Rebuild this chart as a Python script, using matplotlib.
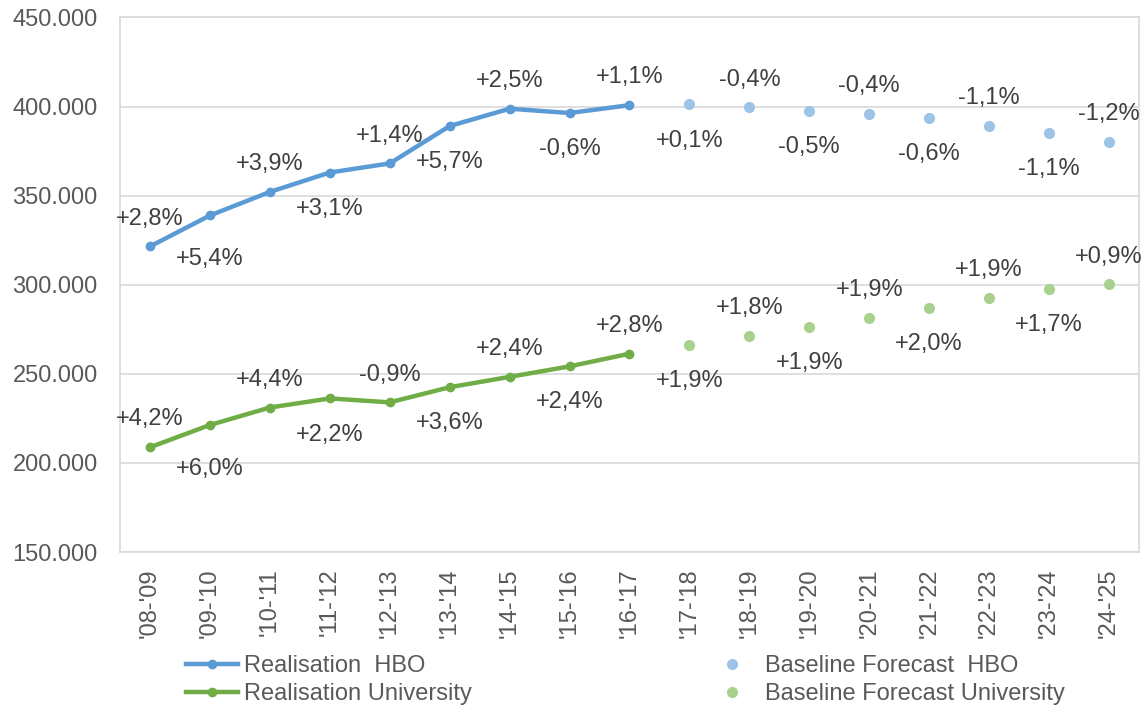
import matplotlib
matplotlib.use("Agg")
import matplotlib.pyplot as plt
from matplotlib.ticker import FuncFormatter
from matplotlib.lines import Line2D

plt.rcParams['font.family'] = ['Liberation Sans', 'DejaVu Sans']

years = ["'08-'09", "'09-'10", "'10-'11", "'11-'12", "'12-'13", "'13-'14", "'14-'15", "'15-'16",
         "'16-'17", "'17-'18", "'18-'19", "'19-'20", "'20-'21", "'21-'22", "'22-'23", "'23-'24", "'24-'25"]

# realisation up to '16-'17, forecast from '17-'18
hbo_real = [321.5, 338.9, 352.1, 363.0, 368.1, 389.1, 398.8, 396.4, 400.8]
hbo_fc = [401.2, 399.6, 397.6, 396.0, 393.6, 389.3, 385.0, 380.4]
uni_real = [208.8, 221.3, 231.1, 236.2, 234.0, 242.5, 248.3, 254.2, 261.3]
uni_fc = [266.3, 271.1, 276.2, 281.5, 287.1, 292.6, 297.6, 300.2]

hbo_pct = ["+2,8%", "+5,4%", "+3,9%", "+3,1%", "+1,4%", "+5,7%", "+2,5%", "-0,6%", "+1,1%",
           "+0,1%", "-0,4%", "-0,5%", "-0,4%", "-0,6%", "-1,1%", "-1,1%", "-1,2%"]
uni_pct = ["+4,2%", "+6,0%", "+4,4%", "+2,2%", "-0,9%", "+3,6%", "+2,4%", "+2,4%", "+2,8%",
           "+1,9%", "+1,8%", "+1,9%", "+1,9%", "+2,0%", "+1,9%", "+1,7%", "+0,9%"]

c_hbo = '#5B9BD5'
c_hbo_fc = '#9DC3E6'
c_uni = '#70AD47'
c_uni_fc = '#A9D18E'
txt = '#404040'
tick_c = '#595959'
grid_c = '#D9D9D9'
fs = 17

fig = plt.figure(figsize=(11.41, 7.11), dpi=100)
ax = fig.add_axes([0.1052, 0.2236, 0.8930, 0.7518])

n_real = len(hbo_real)
x_real = list(range(n_real))
x_fc = list(range(n_real, len(years)))

ax.plot(x_real, [v * 1000 for v in hbo_real], color=c_hbo, lw=3.2, marker='o', ms=6, zorder=3)
ax.plot(x_fc, [v * 1000 for v in hbo_fc], color=c_hbo_fc, lw=0, marker='o', ms=7, zorder=3)
ax.plot(x_real, [v * 1000 for v in uni_real], color=c_uni, lw=3.2, marker='o', ms=6, zorder=3)
ax.plot(x_fc, [v * 1000 for v in uni_fc], color=c_uni_fc, lw=0, marker='o', ms=7, zorder=3)

# data labels, alternating above / below
for series, pcts in [(hbo_real + hbo_fc, hbo_pct), (uni_real + uni_fc, uni_pct)]:
    for i, (v, p) in enumerate(zip(series, pcts)):
        if i % 2 == 0:
            off = 20
        else:
            off = -31.5 if i == 1 else -26
        ax.annotate(p, (i, v * 1000), xytext=(0, off), textcoords='offset points',
                    ha='center', va='center', fontsize=fs, color=txt)

ax.set_xlim(-0.5, len(years) - 0.5)
ax.set_ylim(150000, 450000)
ax.set_yticks(range(150000, 450001, 50000))
ax.yaxis.set_major_formatter(FuncFormatter(lambda v, p: f"{int(v):,}".replace(',', '.')))
ax.set_xticks(range(len(years)))
ax.set_xticklabels(years, rotation=90)
ax.tick_params(axis='both', length=0, labelsize=fs, labelcolor=tick_c)
ax.tick_params(axis='x', pad=12)
ax.tick_params(axis='y', pad=16)
ax.grid(axis='y', color=grid_c, lw=1.2)
ax.set_axisbelow(True)
for s in ax.spines.values():
    s.set_color(grid_c)
    s.set_linewidth(1.2)

h1 = [Line2D([], [], color=c_hbo, lw=3.2, marker='o', ms=6),
      Line2D([], [], color=c_uni, lw=3.2, marker='o', ms=6)]
h2 = [Line2D([], [], color=c_hbo_fc, lw=0, marker='o', ms=7),
      Line2D([], [], color=c_uni_fc, lw=0, marker='o', ms=7)]

leg1 = fig.legend(h1, ['Realisation  HBO', 'Realisation University'], loc='upper left',
                  bbox_to_anchor=(186 / 1141, 1 - 655 / 711), frameon=False, fontsize=fs,
                  handlelength=2.2, handletextpad=0.25, labelspacing=0.27, borderpad=0,
                  borderaxespad=0, labelcolor=tick_c)
leg2 = fig.legend(h2, ['Baseline Forecast  HBO', 'Baseline Forecast University'], loc='upper left',
                  bbox_to_anchor=(706 / 1141, 1 - 655 / 711), frameon=False, fontsize=fs,
                  handlelength=2.2, handletextpad=0.3, labelspacing=0.27, borderpad=0,
                  borderaxespad=0, labelcolor=tick_c)

fig.savefig('out.png', dpi=100)
